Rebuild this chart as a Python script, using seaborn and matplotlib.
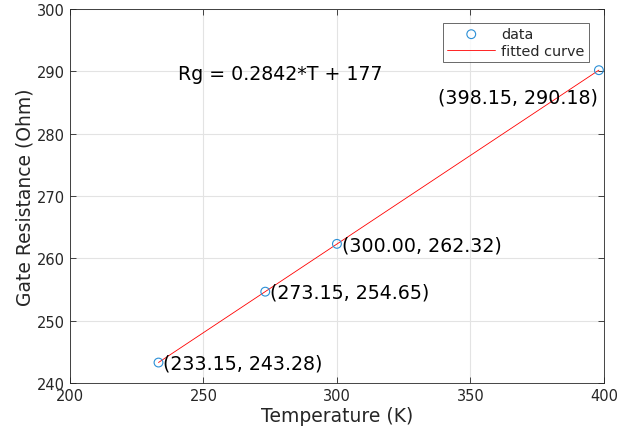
import numpy as np
import pandas as pd
import matplotlib
matplotlib.use("Agg")
import matplotlib.pyplot as plt
import seaborn as sns

# measured points
temp_k = [233.15, 273.15, 300.00, 398.15]
rg_ohm = [243.28, 254.65, 262.32, 290.18]
point_labels = ["(233.15, 243.28)", "(273.15, 254.65)", "(300.00, 262.32)", "(398.15, 290.18)"]
fit_text = "Rg = 0.2842*T + 177"

df = pd.DataFrame({"T": temp_k, "Rg": rg_ohm})
slope, intercept = np.polyfit(temp_k, rg_ohm, 1)
fit_df = pd.DataFrame({"T": [min(temp_k), max(temp_k)]})
fit_df["Rg"] = slope * fit_df["T"] + intercept

sns.set_style("whitegrid")
plt.rcParams["font.family"] = ["DejaVu Sans"]

fig = plt.figure(figsize=(6.18, 4.39), dpi=100)
ax = fig.add_axes([0.1133, 0.1253, 0.8638, 0.852])

sns.scatterplot(data=df, x="T", y="Rg", ax=ax, marker="o", s=40,
                facecolors="none", edgecolor="#2b8fd6", linewidth=0.8,
                label="data", zorder=3)
sns.lineplot(data=fit_df, x="T", y="Rg", ax=ax, color="#ff0000",
             linewidth=0.6, label="fitted curve", zorder=2)

ax.set_xlim(200, 400)
ax.set_ylim(240, 300)
ax.set_xticks(range(200, 401, 50))
ax.set_yticks(range(240, 301, 10))
ax.grid(True, color="#e3e3e3", linewidth=0.8)
for s in ax.spines.values():
    s.set_visible(True)
    s.set_color("#262626")
    s.set_linewidth(0.6)
ax.tick_params(direction="in", length=4, width=0.6, colors="#262626",
               labelsize=10.5, top=True, right=True, left=True, bottom=True)
ax.set_xlabel("Temperature (K)", fontsize=13.5, color="#262626", labelpad=2)
ax.set_ylabel("Gate Resistance (Ohm)", fontsize=13.5, color="#262626", labelpad=2)

# annotations
for i, (x, y, lab) in enumerate(zip(temp_k, rg_ohm, point_labels)):
    if i == len(temp_k) - 1:
        ax.annotate(lab, (x, y), xytext=(-1, -19), textcoords="offset points",
                    ha="right", va="center", fontsize=13.7, color="black")
    else:
        ax.annotate(lab, (x, y), xytext=(3.5, -0.5), textcoords="offset points",
                    ha="left", va="center", fontsize=13.7, color="black")
ax.text(240.4, 289.7, fit_text, fontsize=13.7, ha="left", va="center", color="black")

leg = ax.legend(loc="upper right", bbox_to_anchor=(0.9795, 0.975), fontsize=10.4,
                frameon=True, fancybox=False, borderpad=0.3, labelspacing=0.2,
                handlelength=3.3, handletextpad=0.4, borderaxespad=0.3)
leg.get_frame().set_edgecolor("#262626")
leg.get_frame().set_linewidth(0.6)

fig.savefig("out.png", dpi=100)
